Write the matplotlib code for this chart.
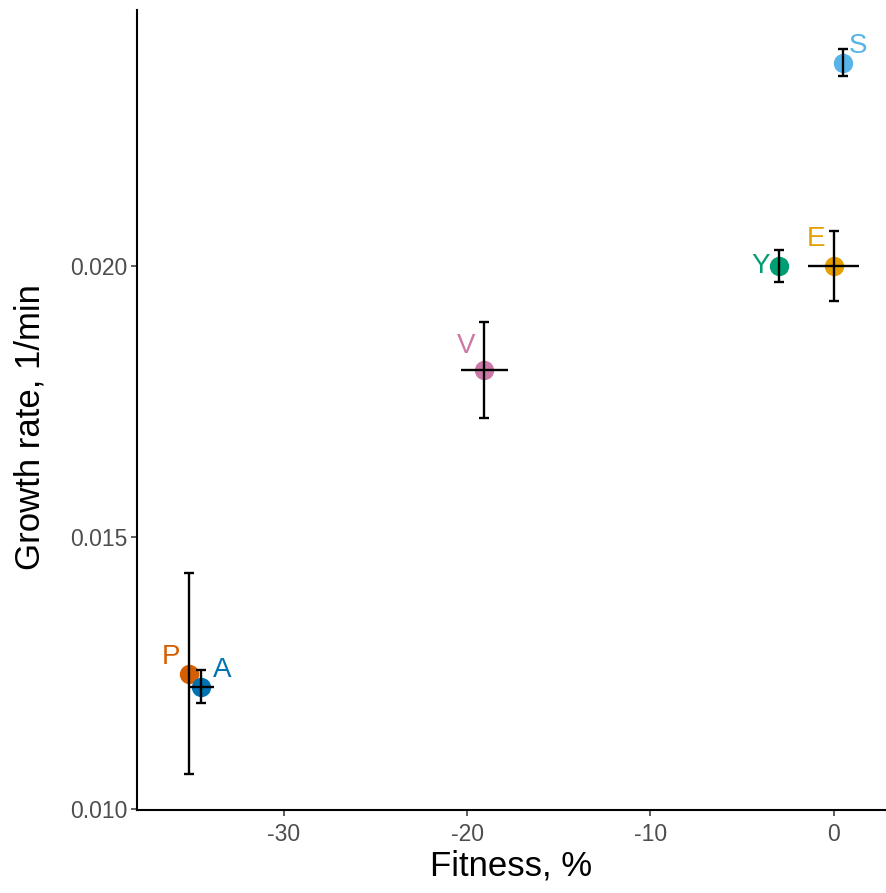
import matplotlib
matplotlib.use("Agg")
import matplotlib.pyplot as plt

plt.rcParams['font.family'] = ['Liberation Sans', 'DejaVu Sans']
plt.rcParams['axes.unicode_minus'] = False

# strain summary: mean fitness / growth rate with error half-widths
strains = ['S', 'E', 'Y', 'V', 'P', 'A']
fitness = [0.5, 0.0, -3.0, -19.05, -35.15, -34.5]
fitness_err = [0.0, 1.4, 0.0, 1.3, 0.0, 0.7]
growth = [0.02374, 0.0200, 0.0200, 0.01808, 0.01249, 0.01225]
growth_err = [0.00025, 0.00064, 0.00029, 0.00088, 0.00185, 0.00030]
colors = ['#56B4E9', '#E69F00', '#009E73', '#CC79A7', '#D55E00', '#0072B2']
# label offsets in points (repel-style placement)
label_offsets = [(11, 12), (-13, 19), (-13, 0), (-13, 17), (-13, 12), (15, 12)]

fig = plt.figure(figsize=(8.86, 8.93), dpi=100)
ax = fig.add_axes([0.1546, 0.0929, 0.8454, 0.8959])

for i in range(len(strains)):
    ax.scatter(fitness[i], growth[i], s=195, color=colors[i], zorder=2, linewidths=0)
    # vertical bars with caps
    ax.errorbar(fitness[i], growth[i], yerr=growth_err[i], fmt='none', ecolor='black',
                elinewidth=1.7, capsize=3.5, capthick=1.7, zorder=3)
    # horizontal bars without caps
    if fitness_err[i] > 0:
        ax.errorbar(fitness[i], growth[i], xerr=fitness_err[i], fmt='none', ecolor='black',
                    elinewidth=1.7, capsize=0, zorder=3)
    ax.annotate(strains[i], (fitness[i], growth[i]), xytext=label_offsets[i],
                textcoords='offset points', ha='center', va='center',
                fontsize=20, color=colors[i])

ax.set_xlim(-38.0, 2.85)
ax.set_ylim(0.00998, 0.02471)
ax.set_xticks([-30, -20, -10, 0])
ax.set_yticks([0.010, 0.015, 0.020])
ax.set_yticklabels(['0.010', '0.015', '0.020'])

for side in ['top', 'right']:
    ax.spines[side].set_visible(False)
for side in ['left', 'bottom']:
    ax.spines[side].set_linewidth(1.5)
ax.tick_params(axis='both', labelsize=16.5, labelcolor='#4D4D4D', color='#333333',
               width=1.1, length=4)
ax.tick_params(axis='x', pad=5)
ax.tick_params(axis='y', pad=3)

ax.set_xlabel('Fitness, %', fontsize=25, labelpad=3)
ax.set_ylabel('Growth rate, 1/min', fontsize=25)
ax.yaxis.set_label_coords(-0.121, 0.479)

fig.savefig('out.png', dpi=100)
